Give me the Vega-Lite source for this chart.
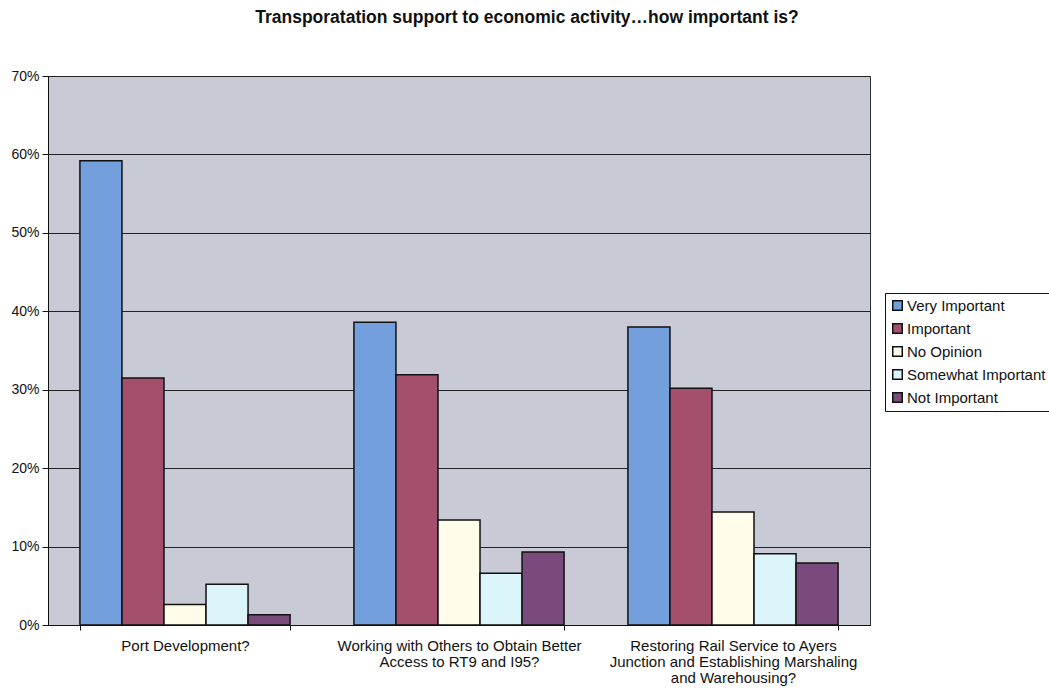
{
  "$schema": "https://vega.github.io/schema/vega-lite/v6.json",
  "autosize": "none",
  "width": 822,
  "height": 549,
  "padding": {"left": 48, "top": 76, "right": 179, "bottom": 73},
  "background": "white",
  "title": {
    "text": "Transporatation support to economic activity…how important is?",
    "font": "Liberation Sans",
    "fontSize": 17.5,
    "fontWeight": "bold",
    "color": "#111",
    "anchor": "middle",
    "offset": 43,
    "dx": 68
  },
  "data": {
    "values": [
      {"item": "Port Development?", "response": "Very Important", "pct": 0.592},
      {"item": "Port Development?", "response": "Important", "pct": 0.315},
      {"item": "Port Development?", "response": "No Opinion", "pct": 0.026},
      {"item": "Port Development?", "response": "Somewhat Important", "pct": 0.052},
      {"item": "Port Development?", "response": "Not Important", "pct": 0.013},
      {"item": "Working with Others to Obtain Better Access to RT9 and I95?", "response": "Very Important", "pct": 0.386},
      {"item": "Working with Others to Obtain Better Access to RT9 and I95?", "response": "Important", "pct": 0.319},
      {"item": "Working with Others to Obtain Better Access to RT9 and I95?", "response": "No Opinion", "pct": 0.134},
      {"item": "Working with Others to Obtain Better Access to RT9 and I95?", "response": "Somewhat Important", "pct": 0.066},
      {"item": "Working with Others to Obtain Better Access to RT9 and I95?", "response": "Not Important", "pct": 0.093},
      {"item": "Restoring Rail Service to Ayers Junction and Establishing Marshaling and Warehousing?", "response": "Very Important", "pct": 0.380},
      {"item": "Restoring Rail Service to Ayers Junction and Establishing Marshaling and Warehousing?", "response": "Important", "pct": 0.302},
      {"item": "Restoring Rail Service to Ayers Junction and Establishing Marshaling and Warehousing?", "response": "No Opinion", "pct": 0.144},
      {"item": "Restoring Rail Service to Ayers Junction and Establishing Marshaling and Warehousing?", "response": "Somewhat Important", "pct": 0.091},
      {"item": "Restoring Rail Service to Ayers Junction and Establishing Marshaling and Warehousing?", "response": "Not Important", "pct": 0.079}
    ]
  },
  "mark": {"type": "bar", "stroke": "#111", "strokeWidth": 1.5},
  "encoding": {
    "x": {
      "field": "item",
      "type": "nominal",
      "sort": null,
      "title": null,
      "scale": {"paddingInner": 0.233, "paddingOuter": 0.1165},
      "axis": {
        "labelAngle": 0,
        "labelFont": "Liberation Sans",
        "labelFontSize": 15,
        "labelColor": "#111",
        "labelPadding": 8,
        "labelLineHeight": 16,
        "tickBand": "extent",
        "tickColor": "#111",
        "tickSize": 5,
        "domainColor": "#111",
        "labelLimit": 400,
        "labelExpr": "datum.label == 'Port Development?' ? 'Port Development?' : (indexof(datum.label, 'Working') == 0 ? ['Working with Others to Obtain Better', 'Access to RT9 and I95?'] : (indexof(datum.label, 'Restoring') == 0 ? ['Restoring Rail Service to Ayers', 'Junction and Establishing Marshaling', 'and Warehousing?'] : ''))"
      }
    },
    "xOffset": {
      "field": "response",
      "type": "nominal",
      "sort": ["Very Important", "Important", "No Opinion", "Somewhat Important", "Not Important"],
      "scale": {"paddingInner": 0, "paddingOuter": 0}
    },
    "y": {
      "field": "pct",
      "type": "quantitative",
      "title": null,
      "scale": {"domain": [0, 0.7], "nice": false},
      "axis": {
        "values": [0, 0.1, 0.2, 0.3, 0.4, 0.5, 0.6, 0.7],
        "format": ".0%",
        "labelFont": "Liberation Sans",
        "labelFontSize": 14,
        "labelColor": "#111",
        "grid": true,
        "gridColor": "#222",
        "gridWidth": 1,
        "tickColor": "#111",
        "tickSize": 6,
        "domainColor": "#111",
        "labelPadding": 3
      }
    },
    "color": {
      "field": "response",
      "type": "nominal",
      "sort": ["Very Important", "Important", "No Opinion", "Somewhat Important", "Not Important"],
      "scale": {
        "domain": ["Very Important", "Important", "No Opinion", "Somewhat Important", "Not Important"],
        "range": ["#739fdc", "#a44f6c", "#fffde9", "#dcf5fb", "#7b4a7c"]
      },
      "legend": {
        "title": null,
        "orient": "none",
        "legendX": 837,
        "legendY": 217,
        "symbolType": "square",
        "symbolSize": 90,
        "symbolStrokeColor": "#111",
        "symbolStrokeWidth": 1.5,
        "labelFont": "Liberation Sans",
        "labelFontSize": 15,
        "labelColor": "#111",
        "labelLimit": 200,
        "rowPadding": 6,
        "labelOffset": 2,
        "padding": 5,
        "strokeColor": "#111",
        "fillColor": "white"
      }
    }
  },
  "config": {
    "view": {"fill": "#c8cbd6", "stroke": "#333", "strokeWidth": 1}
  }
}
